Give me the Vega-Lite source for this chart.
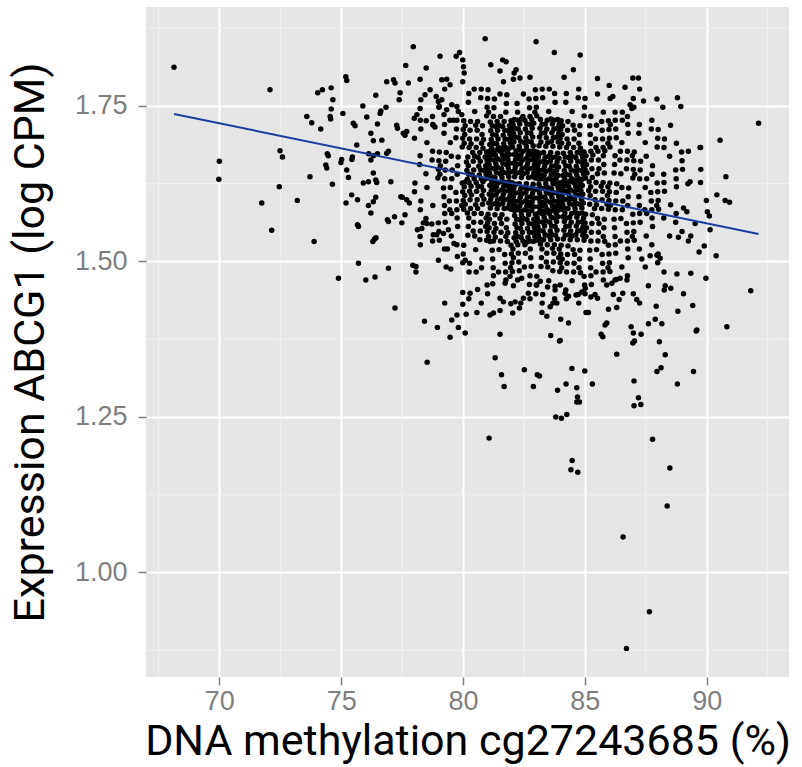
{
"$schema": "https://vega.github.io/schema/vega-lite/v6.json",
"width": 643, "height": 670,
"autosize": {"type": "none"},
"padding": {"left": 146, "top": 7, "right": 13, "bottom": 90},
"background": "#ffffff",
"config": {
 "view": {"fill": "#e5e5e5", "stroke": null},
 "axis": {"domain": false, "grid": true, "gridColor": "#ffffff", "gridWidth": 2, "tickColor": "#7f7f7f", "tickSize": 8, "tickWidth": 1.5, "labelColor": "#7f7f7f", "labelFont": "Liberation Sans", "titleFont": "Roboto", "titleFontWeight": "normal", "titleColor": "#000000", "titleFontSize": 43},
 "axisX": {"labelFontSize": 27, "labelPadding": 3, "titlePadding": 6},
 "axisY": {"labelFontSize": 27, "labelPadding": 11, "titlePadding": 22}
},
"datasets": {
"mx": [{"x":67.5},{"x":72.5},{"x":77.5},{"x":82.5},{"x":87.5},{"x":92.5}],
"my": [{"y":0.875},{"y":1.125},{"y":1.375},{"y":1.625},{"y":1.875}],
"fit": [{"x":68.14,"y":1.737},{"x":92.13,"y":1.544}],
"pts": [
{"x":68.14,"y":1.812},{"x":72.08,"y":1.776},{"x":70.00,"y":1.661},{"x":69.98,"y":1.632},{"x":71.74,"y":1.594},{"x":72.15,"y":1.550},{"x":72.49,"y":1.678},{"x":72.59,"y":1.668},{"x":72.46,"y":1.620},{"x":73.20,"y":1.598},
{"x":73.89,"y":1.532},{"x":73.72,"y":1.636},{"x":73.59,"y":1.733},{"x":73.79,"y":1.723},{"x":74.16,"y":1.713},{"x":74.04,"y":1.771},{"x":74.23,"y":1.776},{"x":74.59,"y":1.779},{"x":74.66,"y":1.760},{"x":74.59,"y":1.745},
{"x":74.55,"y":1.733},{"x":74.57,"y":1.729},{"x":75.07,"y":1.738},{"x":75.19,"y":1.797},{"x":75.23,"y":1.791},{"x":74.43,"y":1.673},{"x":74.47,"y":1.670},{"x":74.37,"y":1.655},{"x":74.41,"y":1.650},{"x":74.64,"y":1.624},
{"x":74.89,"y":1.473},{"x":75.02,"y":1.664},{"x":74.99,"y":1.659},{"x":75.23,"y":1.647},{"x":75.30,"y":1.635},{"x":75.50,"y":1.722},{"x":75.57,"y":1.718},{"x":75.64,"y":1.687},{"x":75.46,"y":1.668},{"x":75.44,"y":1.664},
{"x":75.20,"y":1.594},{"x":75.43,"y":1.607},{"x":75.67,"y":1.599},{"x":75.67,"y":1.559},{"x":75.71,"y":1.556},{"x":75.71,"y":1.497},{"x":75.89,"y":1.750},{"x":76.05,"y":1.732},{"x":75.91,"y":1.626},{"x":76.12,"y":1.628},
{"x":76.22,"y":1.578},{"x":76.12,"y":1.590},{"x":76.32,"y":1.596},{"x":76.42,"y":1.603},{"x":76.30,"y":1.532},{"x":76.37,"y":1.536},{"x":76.43,"y":1.538},{"x":76.01,"y":1.470},{"x":76.39,"y":1.475},{"x":76.22,"y":1.706},
{"x":76.32,"y":1.694},{"x":76.42,"y":1.767},{"x":76.60,"y":1.738},{"x":76.63,"y":1.742},{"x":76.49,"y":1.721},{"x":76.13,"y":1.673},{"x":76.22,"y":1.663},{"x":76.32,"y":1.670},{"x":76.49,"y":1.673},{"x":76.42,"y":1.631},
{"x":76.46,"y":1.627},{"x":76.32,"y":1.642},{"x":76.67,"y":1.695},{"x":76.84,"y":1.748},{"x":76.87,"y":1.789},{"x":77.15,"y":1.792},{"x":77.21,"y":1.787},{"x":77.42,"y":1.771},{"x":77.38,"y":1.760},{"x":76.94,"y":1.489},
{"x":77.21,"y":1.425},{"x":76.87,"y":1.674},{"x":76.94,"y":1.677},{"x":77.04,"y":1.628},{"x":77.19,"y":1.572},{"x":76.94,"y":1.564},{"x":76.90,"y":1.567},{"x":77.28,"y":1.719},{"x":77.31,"y":1.714},{"x":77.45,"y":1.604},
{"x":77.51,"y":1.603},{"x":77.49,"y":1.562},{"x":77.55,"y":1.706},{"x":77.62,"y":1.703},{"x":77.69,"y":1.709},{"x":77.65,"y":1.815},{"x":77.96,"y":1.845},{"x":77.76,"y":1.787},{"x":77.62,"y":1.575},{"x":77.69,"y":1.599},
{"x":77.80,"y":1.594},{"x":77.94,"y":1.494},{"x":78.07,"y":1.492},{"x":78.07,"y":1.483},{"x":78.42,"y":1.404},{"x":78.95,"y":1.394},{"x":79.47,"y":1.378},{"x":79.54,"y":1.406},{"x":79.75,"y":1.414},{"x":79.81,"y":1.394},
{"x":80.09,"y":1.385},{"x":79.99,"y":1.431},{"x":79.99,"y":1.450},{"x":79.77,"y":1.508},{"x":80.09,"y":1.502},{"x":79.31,"y":1.491},{"x":79.50,"y":1.488},{"x":78.99,"y":1.502},{"x":79.36,"y":1.520},{"x":79.63,"y":1.529},
{"x":78.78,"y":1.543},{"x":78.92,"y":1.543},{"x":78.37,"y":1.562},{"x":78.51,"y":1.561},{"x":78.72,"y":1.560},{"x":78.13,"y":1.551},{"x":78.31,"y":1.553},{"x":79.20,"y":1.545},{"x":79.40,"y":1.551},{"x":79.06,"y":1.830},
{"x":79.03,"y":1.749},{"x":78.49,"y":1.811},{"x":78.24,"y":1.793},{"x":78.27,"y":1.760},{"x":78.11,"y":1.736},{"x":78.00,"y":1.730},{"x":79.72,"y":1.830},{"x":79.86,"y":1.836},{"x":79.99,"y":1.824},{"x":80.02,"y":1.813},
{"x":80.05,"y":1.803},{"x":79.99,"y":1.789},{"x":79.13,"y":1.792},{"x":79.33,"y":1.793},{"x":79.47,"y":1.784},{"x":78.65,"y":1.776},{"x":78.44,"y":1.768},{"x":78.90,"y":1.765},{"x":78.99,"y":1.757},{"x":79.13,"y":1.760},
{"x":78.78,"y":1.719},{"x":78.85,"y":1.716},{"x":78.49,"y":1.726},{"x":78.24,"y":1.746},{"x":79.33,"y":1.744},{"x":79.54,"y":1.752},{"x":79.75,"y":1.749},{"x":79.22,"y":1.736},{"x":79.61,"y":1.727},{"x":79.81,"y":1.741},
{"x":79.95,"y":1.736},{"x":78.53,"y":1.338},
{"x":80.91,"y":1.858},{"x":83.00,"y":1.853},{"x":83.75,"y":1.836},{"x":84.81,"y":1.832},{"x":81.14,"y":1.816},{"x":81.63,"y":1.824},{"x":81.77,"y":1.821},{"x":81.52,"y":1.806},{"x":82.10,"y":1.803},{"x":82.18,"y":1.808},
{"x":82.34,"y":1.795},{"x":82.75,"y":1.796},{"x":81.66,"y":1.789},{"x":82.07,"y":1.793},{"x":84.53,"y":1.808},{"x":84.15,"y":1.796},{"x":85.52,"y":1.794},{"x":86.00,"y":1.783},{"x":86.65,"y":1.780},{"x":86.97,"y":1.795},
{"x":87.20,"y":1.795},{"x":86.15,"y":1.765},{"x":86.04,"y":1.762},{"x":87.41,"y":1.758},{"x":87.96,"y":1.761},{"x":88.80,"y":1.763},{"x":88.94,"y":1.749},{"x":88.20,"y":1.748},{"x":86.86,"y":1.752},{"x":86.93,"y":1.746},
{"x":86.54,"y":1.740},{"x":92.13,"y":1.722},{"x":90.55,"y":1.695},{"x":89.73,"y":1.683},{"x":89.76,"y":1.648},{"x":90.79,"y":1.636},{"x":90.42,"y":1.607},{"x":90.76,"y":1.598},{"x":90.94,"y":1.595},{"x":90.03,"y":1.580},
{"x":90.11,"y":1.573},{"x":90.14,"y":1.551},{"x":89.53,"y":1.561},{"x":89.32,"y":1.628},{"x":89.23,"y":1.625},{"x":89.19,"y":1.580},{"x":89.05,"y":1.586},{"x":88.84,"y":1.539},{"x":89.35,"y":1.541},{"x":89.90,"y":1.525},
{"x":89.69,"y":1.515},{"x":90.39,"y":1.509},{"x":89.97,"y":1.473},{"x":89.35,"y":1.481},{"x":88.78,"y":1.480},{"x":91.81,"y":1.453},{"x":89.43,"y":1.429},{"x":89.05,"y":1.448},{"x":88.82,"y":1.420},{"x":89.60,"y":1.390},
{"x":90.83,"y":1.395},{"x":88.53,"y":1.457},{"x":88.26,"y":1.454},{"x":88.30,"y":1.461},{"x":87.93,"y":1.428},{"x":87.89,"y":1.407},{"x":87.61,"y":1.400},{"x":88.16,"y":1.400},{"x":88.06,"y":1.371},{"x":87.13,"y":1.439},
{"x":87.61,"y":1.461},{"x":87.34,"y":1.504},{"x":87.68,"y":1.509},{"x":87.96,"y":1.510},{"x":88.09,"y":1.505},{"x":86.90,"y":1.395},{"x":86.99,"y":1.385},{"x":86.97,"y":1.369},{"x":87.31,"y":1.383},{"x":85.67,"y":1.383},
{"x":85.74,"y":1.379},{"x":85.83,"y":1.398},{"x":85.90,"y":1.401},{"x":85.97,"y":1.423},{"x":86.31,"y":1.426},{"x":86.41,"y":1.439},{"x":86.56,"y":1.449},{"x":86.17,"y":1.447},{"x":83.99,"y":1.373},{"x":83.60,"y":1.381},
{"x":84.33,"y":1.401},{"x":84.01,"y":1.407},{"x":85.05,"y":1.418},{"x":85.15,"y":1.418},{"x":83.24,"y":1.418},{"x":83.44,"y":1.412},{"x":83.58,"y":1.427},{"x":83.69,"y":1.433},{"x":83.85,"y":1.433},{"x":81.52,"y":1.383},
{"x":81.25,"y":1.417},{"x":81.11,"y":1.414},{"x":81.52,"y":1.421},{"x":81.66,"y":1.435},{"x":82.04,"y":1.417},{"x":81.96,"y":1.432},{"x":82.14,"y":1.435},{"x":82.37,"y":1.433},{"x":82.32,"y":1.425},{"x":82.68,"y":1.449},
{"x":82.75,"y":1.440},{"x":80.57,"y":1.418},{"x":80.13,"y":1.415},{"x":80.60,"y":1.455},{"x":80.29,"y":1.449},{"x":81.22,"y":1.464},{"x":81.73,"y":1.465},{"x":81.93,"y":1.476},{"x":82.07,"y":1.461},{"x":82.41,"y":1.473},
{"x":83.03,"y":1.462},{"x":83.17,"y":1.468},{"x":83.47,"y":1.459},{"x":83.78,"y":1.460},{"x":83.99,"y":1.462},{"x":84.19,"y":1.449},{"x":84.33,"y":1.444},{"x":84.64,"y":1.446},{"x":84.88,"y":1.451},{"x":85.02,"y":1.457},
{"x":85.25,"y":1.443},{"x":85.42,"y":1.447},{"x":85.90,"y":1.462},{"x":86.11,"y":1.465},{"x":86.29,"y":1.471},{"x":86.45,"y":1.473},{"x":86.73,"y":1.470},
{"x":83.96,"y":1.372},{"x":87.04,"y":1.372},{"x":89.57,"y":1.388},{"x":81.32,"y":1.345},{"x":86.31,"y":1.351},{"x":88.30,"y":1.350},{"x":81.58,"y":1.318},{"x":81.69,"y":1.299},{"x":82.52,"y":1.326},{"x":83.05,"y":1.318},
{"x":83.14,"y":1.316},{"x":82.89,"y":1.299},{"x":83.88,"y":1.293},{"x":84.23,"y":1.303},{"x":84.47,"y":1.328},{"x":85.00,"y":1.324},{"x":84.67,"y":1.297},{"x":84.70,"y":1.282},{"x":84.67,"y":1.274},{"x":84.78,"y":1.274},
{"x":85.31,"y":1.303},{"x":87.02,"y":1.308},{"x":87.96,"y":1.323},{"x":88.13,"y":1.329},{"x":89.46,"y":1.323},{"x":88.80,"y":1.303},{"x":87.20,"y":1.281},{"x":87.30,"y":1.270},{"x":87.02,"y":1.268},{"x":83.81,"y":1.250},
{"x":84.04,"y":1.248},{"x":84.26,"y":1.254},{"x":81.07,"y":1.216},{"x":87.78,"y":1.214},{"x":84.48,"y":1.180},{"x":84.43,"y":1.165},{"x":84.71,"y":1.161},{"x":88.49,"y":1.168},{"x":88.38,"y":1.107},{"x":86.57,"y":1.057},
{"x":87.65,"y":0.937},{"x":86.71,"y":0.878},
{"x":78.75,"y":1.733},{"x":78.25,"y":1.727},{"x":78.01,"y":1.698},{"x":78.76,"y":1.720},{"x":78.52,"y":1.691},{"x":78.27,"y":1.713},
{"x":78.75,"y":1.677},{"x":78.99,"y":1.648},{"x":78.24,"y":1.670},{"x":78.48,"y":1.641},{"x":78.73,"y":1.663},{"x":78.97,"y":1.634},{"x":78.22,"y":1.656},
{"x":78.25,"y":1.583},{"x":78.01,"y":1.612},{"x":78.76,"y":1.590},{"x":78.52,"y":1.619},{"x":78.27,"y":1.597},{"x":78.03,"y":1.626},
{"x":78.75,"y":1.533},{"x":78.99,"y":1.562},{"x":78.24,"y":1.540},{"x":78.48,"y":1.569},{"x":78.25,"y":1.527},
{"x":79.25,"y":1.777},{"x":79.01,"y":1.748},
{"x":79.75,"y":1.727},{"x":79.99,"y":1.698},{"x":79.24,"y":1.720},{"x":79.48,"y":1.691},{"x":79.73,"y":1.713},{"x":79.97,"y":1.684},{"x":79.22,"y":1.706},{"x":79.46,"y":1.727},{"x":79.71,"y":1.699},
{"x":79.25,"y":1.633},{"x":79.01,"y":1.662},{"x":79.76,"y":1.640},{"x":79.52,"y":1.669},{"x":79.27,"y":1.647},{"x":79.03,"y":1.676},{"x":79.78,"y":1.654},{"x":79.54,"y":1.633},{"x":79.29,"y":1.661},{"x":79.05,"y":1.640},{"x":79.80,"y":1.668},{"x":79.56,"y":1.647},{"x":79.31,"y":1.675},{"x":79.07,"y":1.654},
{"x":79.75,"y":1.583},{"x":79.99,"y":1.612},{"x":79.24,"y":1.590},{"x":79.48,"y":1.619},{"x":79.73,"y":1.597},{"x":79.97,"y":1.626},{"x":79.22,"y":1.604},{"x":79.46,"y":1.583},{"x":79.71,"y":1.611},{"x":79.95,"y":1.590},{"x":79.20,"y":1.618},{"x":79.44,"y":1.597},
{"x":79.25,"y":1.577},{"x":79.01,"y":1.548},{"x":79.76,"y":1.570},{"x":79.52,"y":1.541},{"x":79.27,"y":1.563},{"x":79.03,"y":1.534},{"x":79.78,"y":1.556},{"x":79.54,"y":1.577},
{"x":79.75,"y":1.527},{"x":79.99,"y":1.498},{"x":79.24,"y":1.520},{"x":79.25,"y":1.433},
{"x":80.75,"y":1.777},{"x":80.99,"y":1.748},{"x":80.24,"y":1.770},{"x":80.48,"y":1.741},{"x":80.73,"y":1.763},{"x":80.97,"y":1.734},{"x":80.22,"y":1.756},{"x":80.46,"y":1.777},
{"x":80.25,"y":1.683},{"x":80.01,"y":1.712},{"x":80.76,"y":1.690},{"x":80.52,"y":1.719},{"x":80.27,"y":1.697},{"x":80.03,"y":1.726},{"x":80.78,"y":1.704},{"x":80.54,"y":1.683},{"x":80.29,"y":1.711},{"x":80.05,"y":1.690},
{"x":80.80,"y":1.718},{"x":80.56,"y":1.697},{"x":80.31,"y":1.725},{"x":80.07,"y":1.704},{"x":80.82,"y":1.682},{"x":80.58,"y":1.711},{"x":80.33,"y":1.689},{"x":80.09,"y":1.718},{"x":80.84,"y":1.696},{"x":80.60,"y":1.725},
{"x":80.75,"y":1.633},{"x":80.99,"y":1.662},{"x":80.24,"y":1.640},{"x":80.48,"y":1.669},{"x":80.73,"y":1.647},{"x":80.97,"y":1.676},{"x":80.22,"y":1.654},{"x":80.46,"y":1.633},{"x":80.71,"y":1.661},{"x":80.95,"y":1.640},
{"x":80.20,"y":1.668},{"x":80.44,"y":1.647},{"x":80.69,"y":1.675},{"x":80.93,"y":1.654},{"x":80.18,"y":1.632},{"x":80.42,"y":1.661},{"x":80.67,"y":1.639},{"x":80.91,"y":1.668},{"x":80.16,"y":1.646},{"x":80.40,"y":1.675},
{"x":80.65,"y":1.653},{"x":80.89,"y":1.632},{"x":80.14,"y":1.660},{"x":80.38,"y":1.639},{"x":80.63,"y":1.667},{"x":80.87,"y":1.646},
{"x":80.25,"y":1.627},{"x":80.01,"y":1.598},{"x":80.76,"y":1.620},{"x":80.52,"y":1.591},{"x":80.27,"y":1.613},{"x":80.03,"y":1.584},{"x":80.78,"y":1.606},{"x":80.54,"y":1.627},{"x":80.29,"y":1.599},{"x":80.05,"y":1.620},
{"x":80.80,"y":1.592},{"x":80.56,"y":1.613},{"x":80.31,"y":1.585},{"x":80.07,"y":1.606},{"x":80.82,"y":1.628},{"x":80.58,"y":1.599},{"x":80.33,"y":1.621},{"x":80.09,"y":1.592},{"x":80.84,"y":1.614},{"x":80.60,"y":1.585},
{"x":80.35,"y":1.607},{"x":80.11,"y":1.628},{"x":80.86,"y":1.600},{"x":80.62,"y":1.621},
{"x":80.75,"y":1.577},{"x":80.99,"y":1.548},{"x":80.24,"y":1.570},{"x":80.48,"y":1.541},{"x":80.73,"y":1.563},{"x":80.97,"y":1.534},{"x":80.22,"y":1.556},{"x":80.46,"y":1.577},{"x":80.71,"y":1.549},{"x":80.95,"y":1.570},
{"x":80.20,"y":1.542},{"x":80.44,"y":1.563},{"x":80.69,"y":1.535},{"x":80.93,"y":1.556},{"x":80.18,"y":1.578},{"x":80.42,"y":1.549},
{"x":80.25,"y":1.483},{"x":80.01,"y":1.512},{"x":80.76,"y":1.490},{"x":80.52,"y":1.519},{"x":80.27,"y":1.497},{"x":80.03,"y":1.526},{"x":80.78,"y":1.504},{"x":80.54,"y":1.483},
{"x":80.75,"y":1.433},{"x":80.99,"y":1.462},{"x":80.24,"y":1.440},
{"x":81.25,"y":1.733},{"x":81.01,"y":1.762},{"x":81.76,"y":1.740},{"x":81.52,"y":1.769},{"x":81.27,"y":1.747},{"x":81.03,"y":1.776},{"x":81.78,"y":1.754},{"x":81.54,"y":1.733},{"x":81.29,"y":1.761},{"x":81.05,"y":1.740},{"x":81.80,"y":1.768},
{"x":81.75,"y":1.683},{"x":81.99,"y":1.712},{"x":81.24,"y":1.690},{"x":81.48,"y":1.719},{"x":81.73,"y":1.697},{"x":81.97,"y":1.726},{"x":81.22,"y":1.704},{"x":81.46,"y":1.683},{"x":81.71,"y":1.711},{"x":81.95,"y":1.690},
{"x":81.20,"y":1.718},{"x":81.44,"y":1.697},{"x":81.69,"y":1.725},{"x":81.93,"y":1.704},{"x":81.18,"y":1.682},{"x":81.42,"y":1.711},{"x":81.67,"y":1.689},{"x":81.91,"y":1.718},{"x":81.16,"y":1.696},{"x":81.40,"y":1.725},
{"x":81.65,"y":1.703},{"x":81.89,"y":1.682},{"x":81.14,"y":1.710},{"x":81.38,"y":1.689},{"x":81.63,"y":1.717},{"x":81.87,"y":1.696},
{"x":81.25,"y":1.677},{"x":81.01,"y":1.648},{"x":81.76,"y":1.670},{"x":81.52,"y":1.641},{"x":81.27,"y":1.663},{"x":81.03,"y":1.634},{"x":81.78,"y":1.656},{"x":81.54,"y":1.677},{"x":81.29,"y":1.649},{"x":81.05,"y":1.670},
{"x":81.80,"y":1.642},{"x":81.56,"y":1.663},{"x":81.31,"y":1.635},{"x":81.07,"y":1.656},{"x":81.82,"y":1.678},{"x":81.58,"y":1.649},{"x":81.33,"y":1.671},{"x":81.09,"y":1.642},{"x":81.84,"y":1.664},{"x":81.60,"y":1.635},
{"x":81.35,"y":1.657},{"x":81.11,"y":1.678},{"x":81.86,"y":1.650},{"x":81.62,"y":1.671},{"x":81.37,"y":1.643},{"x":81.13,"y":1.664},{"x":81.88,"y":1.636},{"x":81.64,"y":1.657},{"x":81.39,"y":1.679},{"x":81.15,"y":1.650},
{"x":81.90,"y":1.672},{"x":81.66,"y":1.643},
{"x":81.75,"y":1.627},{"x":81.99,"y":1.598},{"x":81.24,"y":1.620},{"x":81.48,"y":1.591},{"x":81.73,"y":1.613},{"x":81.97,"y":1.584},{"x":81.22,"y":1.606},{"x":81.46,"y":1.627},{"x":81.71,"y":1.599},{"x":81.95,"y":1.620},
{"x":81.20,"y":1.592},{"x":81.44,"y":1.613},{"x":81.69,"y":1.585},{"x":81.93,"y":1.606},{"x":81.18,"y":1.628},{"x":81.42,"y":1.599},{"x":81.67,"y":1.621},{"x":81.91,"y":1.592},{"x":81.16,"y":1.614},{"x":81.40,"y":1.585},
{"x":81.65,"y":1.607},{"x":81.89,"y":1.628},{"x":81.14,"y":1.600},{"x":81.38,"y":1.621},{"x":81.63,"y":1.593},{"x":81.87,"y":1.614},{"x":81.12,"y":1.586},{"x":81.36,"y":1.607},{"x":81.61,"y":1.629},{"x":81.85,"y":1.600},
{"x":81.10,"y":1.622},{"x":81.34,"y":1.593},
{"x":81.25,"y":1.533},{"x":81.01,"y":1.562},{"x":81.76,"y":1.540},{"x":81.52,"y":1.569},{"x":81.27,"y":1.547},{"x":81.03,"y":1.576},{"x":81.78,"y":1.554},{"x":81.54,"y":1.533},{"x":81.29,"y":1.561},{"x":81.05,"y":1.540},
{"x":81.80,"y":1.568},{"x":81.56,"y":1.547},{"x":81.31,"y":1.575},{"x":81.07,"y":1.554},{"x":81.82,"y":1.532},{"x":81.58,"y":1.561},{"x":81.33,"y":1.539},{"x":81.09,"y":1.568},{"x":81.84,"y":1.546},{"x":81.60,"y":1.575},
{"x":81.35,"y":1.553},{"x":81.11,"y":1.532},
{"x":81.75,"y":1.483},{"x":81.99,"y":1.512},{"x":81.24,"y":1.490},{"x":81.48,"y":1.519},{"x":81.73,"y":1.497},{"x":81.97,"y":1.526},{"x":81.22,"y":1.504},{"x":81.46,"y":1.483},{"x":81.71,"y":1.511},{"x":81.95,"y":1.490},{"x":81.20,"y":1.518},
{"x":81.25,"y":1.477},{"x":81.01,"y":1.448},{"x":81.76,"y":1.470},{"x":81.52,"y":1.441},
{"x":82.75,"y":1.733},{"x":82.99,"y":1.762},{"x":82.24,"y":1.740},{"x":82.48,"y":1.769},{"x":82.73,"y":1.747},{"x":82.97,"y":1.776},{"x":82.22,"y":1.754},{"x":82.46,"y":1.733},{"x":82.71,"y":1.761},{"x":82.95,"y":1.740},
{"x":82.25,"y":1.727},{"x":82.01,"y":1.698},{"x":82.76,"y":1.720},{"x":82.52,"y":1.691},{"x":82.27,"y":1.713},{"x":82.03,"y":1.684},{"x":82.78,"y":1.706},{"x":82.54,"y":1.727},{"x":82.29,"y":1.699},{"x":82.05,"y":1.720},
{"x":82.80,"y":1.692},{"x":82.56,"y":1.713},{"x":82.31,"y":1.685},{"x":82.07,"y":1.706},{"x":82.82,"y":1.728},{"x":82.58,"y":1.699},{"x":82.33,"y":1.721},{"x":82.09,"y":1.692},{"x":82.84,"y":1.714},{"x":82.60,"y":1.685},
{"x":82.35,"y":1.707},{"x":82.11,"y":1.728},{"x":82.86,"y":1.700},{"x":82.62,"y":1.721},{"x":82.37,"y":1.693},{"x":82.13,"y":1.714},
{"x":82.75,"y":1.677},{"x":82.99,"y":1.648},{"x":82.24,"y":1.670},{"x":82.48,"y":1.641},{"x":82.73,"y":1.663},{"x":82.97,"y":1.634},{"x":82.22,"y":1.656},{"x":82.46,"y":1.677},{"x":82.71,"y":1.649},{"x":82.95,"y":1.670},
{"x":82.20,"y":1.642},{"x":82.44,"y":1.663},{"x":82.69,"y":1.635},{"x":82.93,"y":1.656},{"x":82.18,"y":1.678},{"x":82.42,"y":1.649},{"x":82.67,"y":1.671},{"x":82.91,"y":1.642},{"x":82.16,"y":1.664},{"x":82.40,"y":1.635},
{"x":82.65,"y":1.657},{"x":82.89,"y":1.678},{"x":82.14,"y":1.650},{"x":82.38,"y":1.671},{"x":82.63,"y":1.643},{"x":82.87,"y":1.664},{"x":82.12,"y":1.636},{"x":82.36,"y":1.657},{"x":82.61,"y":1.679},{"x":82.85,"y":1.650},
{"x":82.10,"y":1.672},{"x":82.34,"y":1.643},{"x":82.59,"y":1.665},{"x":82.83,"y":1.636},
{"x":82.25,"y":1.583},{"x":82.01,"y":1.612},{"x":82.76,"y":1.590},{"x":82.52,"y":1.619},{"x":82.27,"y":1.597},{"x":82.03,"y":1.626},{"x":82.78,"y":1.604},{"x":82.54,"y":1.583},{"x":82.29,"y":1.611},{"x":82.05,"y":1.590},
{"x":82.80,"y":1.618},{"x":82.56,"y":1.597},{"x":82.31,"y":1.625},{"x":82.07,"y":1.604},{"x":82.82,"y":1.582},{"x":82.58,"y":1.611},{"x":82.33,"y":1.589},{"x":82.09,"y":1.618},{"x":82.84,"y":1.596},{"x":82.60,"y":1.625},
{"x":82.35,"y":1.603},{"x":82.11,"y":1.582},{"x":82.86,"y":1.610},{"x":82.62,"y":1.589},{"x":82.37,"y":1.617},{"x":82.13,"y":1.596},{"x":82.88,"y":1.624},{"x":82.64,"y":1.603},{"x":82.39,"y":1.581},{"x":82.15,"y":1.610},
{"x":82.90,"y":1.588},{"x":82.66,"y":1.617},{"x":82.41,"y":1.595},{"x":82.17,"y":1.624},
{"x":82.75,"y":1.533},{"x":82.99,"y":1.562},{"x":82.24,"y":1.540},{"x":82.48,"y":1.569},{"x":82.73,"y":1.547},{"x":82.97,"y":1.576},{"x":82.22,"y":1.554},{"x":82.46,"y":1.533},{"x":82.71,"y":1.561},{"x":82.95,"y":1.540},
{"x":82.20,"y":1.568},{"x":82.44,"y":1.547},{"x":82.69,"y":1.575},{"x":82.93,"y":1.554},{"x":82.18,"y":1.532},{"x":82.42,"y":1.561},{"x":82.67,"y":1.539},{"x":82.91,"y":1.568},{"x":82.16,"y":1.546},{"x":82.40,"y":1.575},
{"x":82.65,"y":1.553},{"x":82.89,"y":1.532},{"x":82.14,"y":1.560},{"x":82.38,"y":1.539},{"x":82.63,"y":1.567},{"x":82.87,"y":1.546},
{"x":82.25,"y":1.527},{"x":82.01,"y":1.498},{"x":82.76,"y":1.520},{"x":82.52,"y":1.491},{"x":82.27,"y":1.513},{"x":82.03,"y":1.484},{"x":82.78,"y":1.506},{"x":82.54,"y":1.527},{"x":82.29,"y":1.499},{"x":82.05,"y":1.520},
{"x":82.80,"y":1.492},{"x":82.56,"y":1.513},{"x":82.31,"y":1.485},{"x":82.07,"y":1.506},
{"x":82.75,"y":1.477},{"x":82.99,"y":1.448},{"x":82.24,"y":1.470},{"x":82.48,"y":1.441},{"x":82.73,"y":1.463},
{"x":83.25,"y":1.777},{"x":83.01,"y":1.748},{"x":83.76,"y":1.770},{"x":83.52,"y":1.741},{"x":83.27,"y":1.763},{"x":83.03,"y":1.734},{"x":83.78,"y":1.756},{"x":83.54,"y":1.777},
{"x":83.75,"y":1.727},{"x":83.99,"y":1.698},{"x":83.24,"y":1.720},{"x":83.48,"y":1.691},{"x":83.73,"y":1.713},{"x":83.97,"y":1.684},{"x":83.22,"y":1.706},{"x":83.46,"y":1.727},{"x":83.71,"y":1.699},{"x":83.95,"y":1.720},
{"x":83.20,"y":1.692},{"x":83.44,"y":1.713},{"x":83.69,"y":1.685},{"x":83.93,"y":1.706},{"x":83.18,"y":1.728},{"x":83.42,"y":1.699},{"x":83.67,"y":1.721},{"x":83.91,"y":1.692},{"x":83.16,"y":1.714},{"x":83.40,"y":1.685},
{"x":83.65,"y":1.707},{"x":83.89,"y":1.728},
{"x":83.25,"y":1.633},{"x":83.01,"y":1.662},{"x":83.76,"y":1.640},{"x":83.52,"y":1.669},{"x":83.27,"y":1.647},{"x":83.03,"y":1.676},{"x":83.78,"y":1.654},{"x":83.54,"y":1.633},{"x":83.29,"y":1.661},{"x":83.05,"y":1.640},
{"x":83.80,"y":1.668},{"x":83.56,"y":1.647},{"x":83.31,"y":1.675},{"x":83.07,"y":1.654},{"x":83.82,"y":1.632},{"x":83.58,"y":1.661},{"x":83.33,"y":1.639},{"x":83.09,"y":1.668},{"x":83.84,"y":1.646},{"x":83.60,"y":1.675},
{"x":83.35,"y":1.653},{"x":83.11,"y":1.632},{"x":83.86,"y":1.660},{"x":83.62,"y":1.639},{"x":83.37,"y":1.667},{"x":83.13,"y":1.646},{"x":83.88,"y":1.674},{"x":83.64,"y":1.653},{"x":83.39,"y":1.631},{"x":83.15,"y":1.660},
{"x":83.90,"y":1.638},{"x":83.66,"y":1.667},
{"x":83.75,"y":1.583},{"x":83.99,"y":1.612},{"x":83.24,"y":1.590},{"x":83.48,"y":1.619},{"x":83.73,"y":1.597},{"x":83.97,"y":1.626},{"x":83.22,"y":1.604},{"x":83.46,"y":1.583},{"x":83.71,"y":1.611},{"x":83.95,"y":1.590},
{"x":83.20,"y":1.618},{"x":83.44,"y":1.597},{"x":83.69,"y":1.625},{"x":83.93,"y":1.604},{"x":83.18,"y":1.582},{"x":83.42,"y":1.611},{"x":83.67,"y":1.589},{"x":83.91,"y":1.618},{"x":83.16,"y":1.596},{"x":83.40,"y":1.625},
{"x":83.65,"y":1.603},{"x":83.89,"y":1.582},{"x":83.14,"y":1.610},{"x":83.38,"y":1.589},{"x":83.63,"y":1.617},{"x":83.87,"y":1.596},{"x":83.12,"y":1.624},{"x":83.36,"y":1.603},{"x":83.61,"y":1.581},{"x":83.85,"y":1.610},
{"x":83.10,"y":1.588},{"x":83.34,"y":1.617},{"x":83.59,"y":1.595},{"x":83.83,"y":1.624},
{"x":83.25,"y":1.577},{"x":83.01,"y":1.548},{"x":83.76,"y":1.570},{"x":83.52,"y":1.541},{"x":83.27,"y":1.563},{"x":83.03,"y":1.534},{"x":83.78,"y":1.556},{"x":83.54,"y":1.577},{"x":83.29,"y":1.549},{"x":83.05,"y":1.570},
{"x":83.80,"y":1.542},{"x":83.56,"y":1.563},{"x":83.31,"y":1.535},{"x":83.07,"y":1.556},{"x":83.82,"y":1.578},{"x":83.58,"y":1.549},{"x":83.33,"y":1.571},{"x":83.09,"y":1.542},{"x":83.84,"y":1.564},{"x":83.60,"y":1.535},
{"x":83.35,"y":1.557},{"x":83.11,"y":1.578},{"x":83.86,"y":1.550},{"x":83.62,"y":1.571},{"x":83.37,"y":1.543},{"x":83.13,"y":1.564},{"x":83.88,"y":1.536},{"x":83.64,"y":1.557},
{"x":83.75,"y":1.527},{"x":83.99,"y":1.498},{"x":83.24,"y":1.520},{"x":83.48,"y":1.491},{"x":83.73,"y":1.513},{"x":83.97,"y":1.484},{"x":83.22,"y":1.506},{"x":83.46,"y":1.527},{"x":83.71,"y":1.499},{"x":83.95,"y":1.520},
{"x":83.20,"y":1.492},{"x":83.44,"y":1.513},{"x":83.69,"y":1.485},{"x":83.93,"y":1.506},{"x":83.18,"y":1.528},{"x":83.42,"y":1.499},{"x":83.67,"y":1.521},
{"x":83.25,"y":1.433},{"x":83.01,"y":1.462},{"x":83.76,"y":1.440},{"x":83.52,"y":1.469},{"x":83.27,"y":1.447},{"x":83.03,"y":1.476},{"x":83.78,"y":1.454},
{"x":84.75,"y":1.777},{"x":84.99,"y":1.748},{"x":84.24,"y":1.770},{"x":84.48,"y":1.741},{"x":84.73,"y":1.763},{"x":84.97,"y":1.734},{"x":84.22,"y":1.756},
{"x":84.25,"y":1.683},{"x":84.01,"y":1.712},{"x":84.76,"y":1.690},{"x":84.52,"y":1.719},{"x":84.27,"y":1.697},{"x":84.03,"y":1.726},{"x":84.78,"y":1.704},{"x":84.54,"y":1.683},{"x":84.29,"y":1.711},{"x":84.05,"y":1.690},
{"x":84.80,"y":1.718},{"x":84.56,"y":1.697},{"x":84.31,"y":1.725},{"x":84.07,"y":1.704},{"x":84.82,"y":1.682},{"x":84.58,"y":1.711},{"x":84.33,"y":1.689},{"x":84.09,"y":1.718},
{"x":84.75,"y":1.633},{"x":84.99,"y":1.662},{"x":84.24,"y":1.640},{"x":84.48,"y":1.669},{"x":84.73,"y":1.647},{"x":84.97,"y":1.676},{"x":84.22,"y":1.654},{"x":84.46,"y":1.633},{"x":84.71,"y":1.661},{"x":84.95,"y":1.640},
{"x":84.20,"y":1.668},{"x":84.44,"y":1.647},{"x":84.69,"y":1.675},{"x":84.93,"y":1.654},{"x":84.18,"y":1.632},{"x":84.42,"y":1.661},{"x":84.67,"y":1.639},{"x":84.91,"y":1.668},{"x":84.16,"y":1.646},{"x":84.40,"y":1.675},
{"x":84.65,"y":1.653},{"x":84.89,"y":1.632},{"x":84.14,"y":1.660},{"x":84.38,"y":1.639},{"x":84.63,"y":1.667},{"x":84.87,"y":1.646},
{"x":84.25,"y":1.627},{"x":84.01,"y":1.598},{"x":84.76,"y":1.620},{"x":84.52,"y":1.591},{"x":84.27,"y":1.613},{"x":84.03,"y":1.584},{"x":84.78,"y":1.606},{"x":84.54,"y":1.627},{"x":84.29,"y":1.599},{"x":84.05,"y":1.620},
{"x":84.80,"y":1.592},{"x":84.56,"y":1.613},{"x":84.31,"y":1.585},{"x":84.07,"y":1.606},{"x":84.82,"y":1.628},{"x":84.58,"y":1.599},{"x":84.33,"y":1.621},{"x":84.09,"y":1.592},{"x":84.84,"y":1.614},{"x":84.60,"y":1.585},
{"x":84.35,"y":1.607},{"x":84.11,"y":1.628},{"x":84.86,"y":1.600},{"x":84.62,"y":1.621},{"x":84.37,"y":1.593},{"x":84.13,"y":1.614},{"x":84.88,"y":1.586},{"x":84.64,"y":1.607},{"x":84.39,"y":1.629},{"x":84.15,"y":1.600},
{"x":84.75,"y":1.577},{"x":84.99,"y":1.548},{"x":84.24,"y":1.570},{"x":84.48,"y":1.541},{"x":84.73,"y":1.563},{"x":84.97,"y":1.534},{"x":84.22,"y":1.556},{"x":84.46,"y":1.577},{"x":84.71,"y":1.549},{"x":84.95,"y":1.570},
{"x":84.20,"y":1.542},{"x":84.44,"y":1.563},{"x":84.69,"y":1.535},{"x":84.93,"y":1.556},{"x":84.18,"y":1.578},{"x":84.42,"y":1.549},{"x":84.67,"y":1.571},{"x":84.91,"y":1.542},{"x":84.16,"y":1.564},{"x":84.40,"y":1.535},
{"x":84.65,"y":1.557},{"x":84.89,"y":1.578},{"x":84.14,"y":1.550},{"x":84.38,"y":1.571},{"x":84.63,"y":1.543},{"x":84.87,"y":1.564},
{"x":84.25,"y":1.483},{"x":84.01,"y":1.512},{"x":84.76,"y":1.490},{"x":84.52,"y":1.519},{"x":84.27,"y":1.497},{"x":84.03,"y":1.526},{"x":84.78,"y":1.504},{"x":84.54,"y":1.483},{"x":84.29,"y":1.511},{"x":84.05,"y":1.490},
{"x":84.80,"y":1.518},{"x":84.56,"y":1.497},{"x":84.31,"y":1.525},{"x":84.07,"y":1.504},{"x":84.82,"y":1.482},{"x":84.58,"y":1.511},
{"x":84.75,"y":1.433},{"x":84.99,"y":1.462},{"x":84.24,"y":1.440},{"x":84.48,"y":1.469},{"x":84.73,"y":1.447},{"x":84.97,"y":1.476},{"x":84.22,"y":1.454},
{"x":85.25,"y":1.733},{"x":85.01,"y":1.762},{"x":85.76,"y":1.740},{"x":85.52,"y":1.769},
{"x":85.75,"y":1.683},{"x":85.99,"y":1.712},{"x":85.24,"y":1.690},{"x":85.48,"y":1.719},{"x":85.73,"y":1.697},{"x":85.97,"y":1.726},{"x":85.22,"y":1.704},{"x":85.46,"y":1.683},{"x":85.71,"y":1.711},{"x":85.95,"y":1.690},
{"x":85.20,"y":1.718},{"x":85.44,"y":1.697},{"x":85.69,"y":1.725},
{"x":85.25,"y":1.677},{"x":85.01,"y":1.648},{"x":85.76,"y":1.670},{"x":85.52,"y":1.641},{"x":85.27,"y":1.663},{"x":85.03,"y":1.634},{"x":85.78,"y":1.656},{"x":85.54,"y":1.677},{"x":85.29,"y":1.649},{"x":85.05,"y":1.670},
{"x":85.80,"y":1.642},{"x":85.56,"y":1.663},{"x":85.31,"y":1.635},{"x":85.07,"y":1.656},{"x":85.82,"y":1.678},{"x":85.58,"y":1.649},{"x":85.33,"y":1.671},{"x":85.09,"y":1.642},
{"x":85.75,"y":1.627},{"x":85.99,"y":1.598},{"x":85.24,"y":1.620},{"x":85.48,"y":1.591},{"x":85.73,"y":1.613},{"x":85.97,"y":1.584},{"x":85.22,"y":1.606},{"x":85.46,"y":1.627},{"x":85.71,"y":1.599},{"x":85.95,"y":1.620},
{"x":85.20,"y":1.592},{"x":85.44,"y":1.613},{"x":85.69,"y":1.585},{"x":85.93,"y":1.606},{"x":85.18,"y":1.628},{"x":85.42,"y":1.599},{"x":85.67,"y":1.621},{"x":85.91,"y":1.592},{"x":85.16,"y":1.614},{"x":85.40,"y":1.585},
{"x":85.25,"y":1.533},{"x":85.01,"y":1.562},{"x":85.76,"y":1.540},{"x":85.52,"y":1.569},{"x":85.27,"y":1.547},{"x":85.03,"y":1.576},{"x":85.78,"y":1.554},{"x":85.54,"y":1.533},{"x":85.29,"y":1.561},{"x":85.05,"y":1.540},
{"x":85.80,"y":1.568},{"x":85.56,"y":1.547},{"x":85.31,"y":1.575},{"x":85.07,"y":1.554},{"x":85.82,"y":1.532},{"x":85.58,"y":1.561},
{"x":85.75,"y":1.483},{"x":85.99,"y":1.512},{"x":85.24,"y":1.490},{"x":85.48,"y":1.519},{"x":85.73,"y":1.497},{"x":85.97,"y":1.526},{"x":85.22,"y":1.504},{"x":85.46,"y":1.483},{"x":85.71,"y":1.511},{"x":85.95,"y":1.490},{"x":85.20,"y":1.518},
{"x":85.25,"y":1.477},{"x":85.01,"y":1.448},{"x":85.76,"y":1.470},{"x":85.52,"y":1.441},{"x":85.27,"y":1.463},
{"x":86.75,"y":1.733},{"x":86.99,"y":1.762},{"x":86.24,"y":1.740},
{"x":86.25,"y":1.727},{"x":86.01,"y":1.698},{"x":86.76,"y":1.720},{"x":86.52,"y":1.691},{"x":86.27,"y":1.713},{"x":86.03,"y":1.684},{"x":86.78,"y":1.706},{"x":86.54,"y":1.727},{"x":86.29,"y":1.699},{"x":86.05,"y":1.720},
{"x":86.75,"y":1.677},{"x":86.99,"y":1.648},{"x":86.24,"y":1.670},{"x":86.48,"y":1.641},{"x":86.73,"y":1.663},{"x":86.97,"y":1.634},{"x":86.22,"y":1.656},{"x":86.46,"y":1.677},{"x":86.71,"y":1.649},{"x":86.95,"y":1.670},{"x":86.20,"y":1.642},{"x":86.44,"y":1.663},
{"x":86.25,"y":1.583},{"x":86.01,"y":1.612},{"x":86.76,"y":1.590},{"x":86.52,"y":1.619},{"x":86.27,"y":1.597},{"x":86.03,"y":1.626},{"x":86.78,"y":1.604},{"x":86.54,"y":1.583},{"x":86.29,"y":1.611},{"x":86.05,"y":1.590},{"x":86.80,"y":1.618},{"x":86.56,"y":1.597},{"x":86.31,"y":1.625},
{"x":86.75,"y":1.533},{"x":86.99,"y":1.562},{"x":86.24,"y":1.540},{"x":86.48,"y":1.569},{"x":86.73,"y":1.547},{"x":86.97,"y":1.576},{"x":86.22,"y":1.554},{"x":86.46,"y":1.533},{"x":86.71,"y":1.561},{"x":86.95,"y":1.540},{"x":86.20,"y":1.568},
{"x":86.25,"y":1.527},{"x":86.01,"y":1.498},{"x":86.76,"y":1.520},{"x":86.52,"y":1.491},{"x":86.27,"y":1.513},{"x":86.03,"y":1.484},{"x":86.78,"y":1.506},
{"x":86.75,"y":1.477},{"x":86.99,"y":1.448},{"x":86.24,"y":1.470},
{"x":87.25,"y":1.777},{"x":87.01,"y":1.748},
{"x":87.75,"y":1.727},{"x":87.99,"y":1.698},{"x":87.24,"y":1.720},{"x":87.48,"y":1.691},{"x":87.73,"y":1.713},{"x":87.97,"y":1.684},{"x":87.22,"y":1.706},
{"x":87.25,"y":1.633},{"x":87.01,"y":1.662},{"x":87.76,"y":1.640},{"x":87.52,"y":1.669},{"x":87.27,"y":1.647},{"x":87.03,"y":1.676},{"x":87.78,"y":1.654},{"x":87.54,"y":1.633},{"x":87.29,"y":1.661},{"x":87.05,"y":1.640},
{"x":87.75,"y":1.583},{"x":87.99,"y":1.612},{"x":87.24,"y":1.590},{"x":87.48,"y":1.619},{"x":87.73,"y":1.597},{"x":87.97,"y":1.626},{"x":87.22,"y":1.604},{"x":87.46,"y":1.583},{"x":87.71,"y":1.611},{"x":87.95,"y":1.590},
{"x":87.25,"y":1.577},{"x":87.01,"y":1.548},{"x":87.76,"y":1.570},{"x":87.52,"y":1.541},{"x":87.27,"y":1.563},{"x":87.03,"y":1.534},{"x":87.78,"y":1.556},{"x":87.54,"y":1.577},
{"x":87.75,"y":1.527},{"x":87.99,"y":1.498},{"x":87.24,"y":1.520},{"x":87.48,"y":1.491},{"x":87.25,"y":1.433},
{"x":88.25,"y":1.683},{"x":88.01,"y":1.712},{"x":88.76,"y":1.690},{"x":88.52,"y":1.719},{"x":88.27,"y":1.697},
{"x":88.75,"y":1.633},{"x":88.99,"y":1.662},{"x":88.24,"y":1.640},{"x":88.48,"y":1.669},{"x":88.73,"y":1.647},{"x":88.97,"y":1.676},
{"x":88.25,"y":1.627},{"x":88.01,"y":1.598},{"x":88.76,"y":1.620},{"x":88.52,"y":1.591},{"x":88.27,"y":1.613},{"x":88.03,"y":1.584},
{"x":88.75,"y":1.577},{"x":88.99,"y":1.548},{"x":88.24,"y":1.570},{"x":88.48,"y":1.541},{"x":88.73,"y":1.563},
{"x":88.25,"y":1.483},{"x":88.01,"y":1.512},
{"x":89.75,"y":1.683},{"x":89.25,"y":1.677},{"x":89.01,"y":1.648},{"x":89.75,"y":1.627},{"x":89.99,"y":1.598},{"x":89.25,"y":1.533},
{"x":81.41,"y":1.665},{"x":81.17,"y":1.636},{"x":81.92,"y":1.658},{"x":81.68,"y":1.679},{"x":81.43,"y":1.651},{"x":81.19,"y":1.672},{"x":81.94,"y":1.644},{"x":81.70,"y":1.665},
{"x":81.59,"y":1.615},{"x":81.83,"y":1.586},{"x":81.08,"y":1.608},{"x":81.32,"y":1.629},{"x":81.57,"y":1.601},{"x":81.81,"y":1.622},{"x":81.06,"y":1.594},{"x":81.30,"y":1.615},
{"x":82.08,"y":1.658},{"x":82.32,"y":1.679},{"x":82.57,"y":1.651},{"x":82.81,"y":1.672},{"x":82.06,"y":1.644},{"x":82.30,"y":1.665},
{"x":82.92,"y":1.602},{"x":82.68,"y":1.581},{"x":82.43,"y":1.609},{"x":82.19,"y":1.588},{"x":82.94,"y":1.616},{"x":82.70,"y":1.595},
{"x":83.41,"y":1.645},{"x":83.17,"y":1.674},{"x":83.92,"y":1.652},{"x":83.68,"y":1.631},{"x":83.43,"y":1.659},{"x":83.19,"y":1.638},{"x":83.94,"y":1.666},{"x":83.70,"y":1.645},
{"x":83.08,"y":1.602},{"x":83.32,"y":1.581},{"x":83.57,"y":1.609},{"x":83.81,"y":1.588},{"x":83.06,"y":1.616},{"x":83.30,"y":1.595},
{"x":84.90,"y":1.622},{"x":84.66,"y":1.593},{"x":84.41,"y":1.615},{"x":84.17,"y":1.586},{"x":84.92,"y":1.608},{"x":84.68,"y":1.629},{"x":84.43,"y":1.601},{"x":84.19,"y":1.622},{"x":84.94,"y":1.594},{"x":84.70,"y":1.615},
{"x":84.12,"y":1.674},{"x":84.36,"y":1.653},{"x":84.61,"y":1.631},{"x":84.85,"y":1.660},{"x":84.10,"y":1.638},{"x":84.34,"y":1.667},{"x":84.59,"y":1.645},{"x":84.83,"y":1.674},
{"x":82.88,"y":1.686},{"x":82.64,"y":1.707},{"x":82.39,"y":1.729},{"x":82.15,"y":1.700},{"x":82.90,"y":1.722},{"x":82.66,"y":1.693},
{"x":83.14,"y":1.700},{"x":83.38,"y":1.721},{"x":83.63,"y":1.693},{"x":83.87,"y":1.714},{"x":83.12,"y":1.686},{"x":83.36,"y":1.707},{"x":83.61,"y":1.729},{"x":83.85,"y":1.700},
{"x":82.12,"y":1.574},{"x":82.36,"y":1.553},{"x":82.61,"y":1.531},{"x":82.85,"y":1.560},{"x":82.10,"y":1.538},{"x":82.34,"y":1.567},
{"x":83.39,"y":1.579},{"x":83.15,"y":1.550},{"x":83.90,"y":1.572},{"x":83.66,"y":1.543},{"x":83.41,"y":1.565},{"x":83.17,"y":1.536},
{"x":84.12,"y":1.536},{"x":84.36,"y":1.557},{"x":84.61,"y":1.579},{"x":84.85,"y":1.550},{"x":84.10,"y":1.572},{"x":84.34,"y":1.543},
{"x":81.12,"y":1.724},{"x":81.36,"y":1.703},{"x":81.61,"y":1.681},{"x":81.85,"y":1.710},{"x":81.10,"y":1.688},{"x":81.34,"y":1.717}
]
},
"layer": [
 {"data": {"name": "mx"}, "mark": {"type": "rule", "color": "#f2f2f2", "strokeWidth": 1},
  "encoding": {"x": {"field": "x", "type": "quantitative", "scale": {"domain": [66.99, 93.38], "nice": false, "zero": false}, "axis": {"values": [70, 75, 80, 85, 90], "title": "DNA methylation cg27243685 (%)"}}}},
 {"data": {"name": "my"}, "mark": {"type": "rule", "color": "#f2f2f2", "strokeWidth": 1},
  "encoding": {"y": {"field": "y", "type": "quantitative", "scale": {"domain": [0.832, 1.909], "nice": false, "zero": false}, "axis": {"values": [1, 1.25, 1.5, 1.75], "format": ".2f", "title": "Expression ABCG1 (log CPM)"}}}},
 {"data": {"name": "pts"}, "mark": {"type": "circle", "color": "#000000", "opacity": 1, "size": 30},
  "encoding": {
   "x": {"field": "x", "type": "quantitative", "axis": {"values": [70, 75, 80, 85, 90], "title": "DNA methylation cg27243685 (%)"}},
   "y": {"field": "y", "type": "quantitative", "axis": {"values": [1, 1.25, 1.5, 1.75], "format": ".2f", "title": "Expression ABCG1 (log CPM)"}}}},
 {"data": {"name": "fit"}, "mark": {"type": "line", "color": "#1a3d9c", "strokeWidth": 2},
  "encoding": {"x": {"field": "x", "type": "quantitative"}, "y": {"field": "y", "type": "quantitative"}}}
]
}
